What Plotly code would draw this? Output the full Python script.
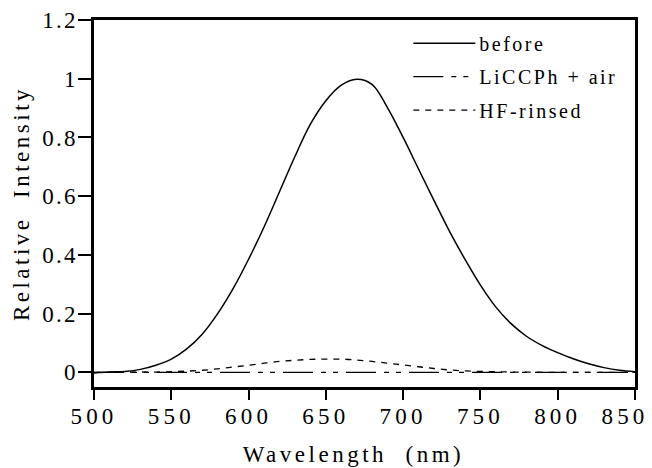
import plotly.graph_objects as go

# ---- data ----
wavelength = [500, 510, 520, 530, 540, 550, 560, 570, 580, 590, 600, 610, 620, 630, 640,
              650, 660, 670, 680, 690, 700, 710, 720, 730, 740, 750, 760, 770, 780, 790,
              800, 810, 820, 830, 840, 850]
before = [-0.002, 0.001, 0.003, 0.010, 0.024, 0.045, 0.080, 0.130, 0.200, 0.285, 0.385, 0.495,
          0.615, 0.735, 0.845, 0.925, 0.978, 0.998, 0.980, 0.900, 0.800, 0.692, 0.585, 0.480,
          0.385, 0.297, 0.222, 0.165, 0.122, 0.091, 0.067, 0.046, 0.029, 0.016, 0.007, 0.002]
liccph_air = [0.000, 0.000, 0.000, 0.000, 0.000, 0.000, 0.000, 0.000, 0.000, 0.000, 0.000, 0.000,
              0.000, 0.000, 0.000, 0.000, 0.000, 0.000, 0.000, 0.000, 0.000, 0.000, 0.000, 0.000,
              0.000, 0.000, 0.000, 0.000, 0.000, 0.000, 0.000, 0.000, 0.000, 0.000, 0.000, 0.000]
hf_rinsed = [0.000, 0.000, 0.000, 0.001, 0.001, 0.002, 0.004, 0.007, 0.012, 0.018, 0.024, 0.031,
             0.037, 0.041, 0.044, 0.045, 0.045, 0.042, 0.037, 0.031, 0.025, 0.019, 0.013, 0.008,
             0.005, 0.003, 0.002, 0.001, 0.001, 0.000, 0.000, 0.000, 0.000, 0.000, 0.000, 0.000]

series_names = ["before", "LiCCPh + air", "HF-rinsed"]
x_ticks = [500, 550, 600, 650, 700, 750, 800, 850]
x_ticktext = ["500", "550", "600", "650", "700", "750", "800", "850"]
y_ticks = [0, 0.2, 0.4, 0.6, 0.8, 1, 1.2]
y_ticktext = ["0", "0.2", "0.4", "0.6", "0.8", "1", "1.2"]

FONT = "Liberation Serif, Times New Roman, serif"

fig = go.Figure()
fig.add_trace(go.Scatter(x=wavelength, y=before, name=series_names[0], mode="lines",
                         legendgroup="a",
                         line=dict(color="black", width=1.5, shape="spline", smoothing=1.0)))
fig.add_trace(go.Scatter(x=wavelength, y=liccph_air, name=series_names[1], mode="lines",
                         legendgroup="b",
                         line=dict(color="black", width=1.3, dash="30px,8px,5px,7px,5px,8px")))
fig.add_trace(go.Scatter(x=wavelength, y=hf_rinsed, name=series_names[2], mode="lines",
                         legendgroup="c",
                         line=dict(color="black", width=1.3, dash="6px,6px", shape="spline",
                                   smoothing=1.0)))

fig.update_layout(
    width=652, height=468,
    margin=dict(l=94, r=17, t=20, b=81),
    paper_bgcolor="white", plot_bgcolor="white",
    font=dict(family=FONT, color="black", size=20),
    showlegend=True,
    legend=dict(x=0.581, y=0.99, xanchor="left", yanchor="top",
                bgcolor="rgba(0,0,0,0)", borderwidth=0,
                font=dict(family=FONT, size=20, color="black"),
                itemwidth=61, tracegroupgap=4.5, traceorder="grouped"),
)
fig.update_xaxes(range=[500, 850], tickvals=x_ticks, ticktext=x_ticktext,
                 showgrid=False, zeroline=False, automargin=False,
                 showline=True, linecolor="black", linewidth=2.5, mirror=True,
                 ticks="outside", ticklen=10, tickwidth=2, tickcolor="black",
                 ticklabeloverflow="allow", ticklabelstandoff=-3,
                 tickfont=dict(family=FONT, size=23),
                 title=dict(text="Wavelength  (nm)", font=dict(family=FONT, size=23), standoff=18))
fig.update_yaxes(range=[-0.05, 1.2], tickvals=y_ticks, ticktext=y_ticktext,
                 showgrid=False, zeroline=False, automargin=False,
                 showline=True, linecolor="black", linewidth=2.5, mirror=True,
                 ticks="outside", ticklen=13, tickwidth=2, tickcolor="black",
                 ticklabelstandoff=-4,
                 tickfont=dict(family=FONT, size=23),
                 title=dict(text="Relative  Intensity", font=dict(family=FONT, size=23), standoff=13))

post = """
document.body.style.margin = '0';
var s = document.createElement('style');
s.innerHTML = '.xtick text{letter-spacing:4.2px;} .ytick text{letter-spacing:2.2px;}'
 + ' .g-xtitle text{letter-spacing:3.5px; white-space:pre;} .g-ytitle text{letter-spacing:3.5px; white-space:pre;}'
 + ' .legendtext{letter-spacing:2.5px;} .legend .js-line{d:path("M5,0h62");}'
 + ' .legend .scrollbox{clip-path:none !important;}';
document.head.appendChild(s);
var xt = document.querySelectorAll('.xtick text');
if (xt.length) { xt[xt.length - 1].setAttribute('dx', '-10'); }
var xtt = document.querySelector('.g-xtitle text');
if (xtt) { xtt.setAttribute('dx', '-11'); }
"""

fig.write_html("out.html", post_script=post, config={"displayModeBar": False})
